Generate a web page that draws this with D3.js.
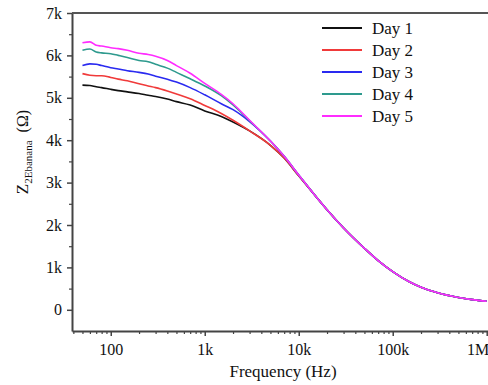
<!DOCTYPE html>
<html lang="en">
<head>
  <meta charset="UTF-8" />
  <title>Z2Ebanana vs frequency</title>
  <script src="https://d3js.org/d3.v7.min.js"></script>
  <style>
    body {
      background-color: white;
      margin: 0;
    }
    svg {
      display: block;
      font-family: "Liberation Serif", "DejaVu Serif", serif;
    }
    .axis path, .axis line {
      stroke: #444;
    }
    .axis text {
      font-family: "Liberation Serif", serif;
      font-size: 16px;
      fill: #111;
    }
  </style>
</head>
<body>
  <svg></svg>

  <script>
    const width = 488;
    const height = 385;

    // frequencies in Hz
    const freq = [50, 60, 70, 80, 100, 120, 150, 200, 250, 300, 400, 500, 700, 1000, 1500, 2000, 3000,
      5000, 7000, 10000, 15000, 20000, 30000, 50000, 70000, 100000, 150000, 200000, 300000, 500000, 700000, 1000000];

    // impedance in ohm, one array per day
    const day1 = [5300, 5290, 5260, 5240, 5200, 5170, 5140, 5100, 5060, 5030, 4970, 4910, 4830, 4690, 4560, 4430, 4220,
      3880, 3580, 3160, 2690, 2360, 1930, 1450, 1160, 900, 660, 530, 400, 290, 240, 200];
    const day2 = [5570, 5530, 5520, 5520, 5480, 5440, 5400, 5330, 5280, 5240, 5160, 5090, 4980, 4820, 4630, 4470, 4220,
      3880, 3580, 3160, 2690, 2360, 1930, 1450, 1160, 900, 660, 530, 400, 290, 240, 200];
    const day3 = [5760, 5800, 5790, 5760, 5710, 5680, 5640, 5600, 5560, 5510, 5440, 5370, 5240, 5070, 4860, 4720, 4440,
      3980, 3620, 3180, 2690, 2360, 1930, 1450, 1160, 900, 660, 530, 400, 290, 240, 200];
    const day4 = [6120, 6150, 6080, 6060, 6040, 6000, 5950, 5880, 5850, 5790, 5700, 5600, 5450, 5280, 5050, 4830, 4460,
      3980, 3620, 3180, 2690, 2360, 1930, 1450, 1160, 900, 660, 530, 400, 290, 240, 200];
    const day5 = [6300, 6320, 6240, 6220, 6180, 6160, 6120, 6050, 6020, 5980, 5880, 5760, 5580, 5340, 5080, 4860, 4470,
      3980, 3620, 3180, 2690, 2360, 1930, 1450, 1160, 900, 660, 530, 400, 290, 240, 200];

    const seriesNames = ["Day 1", "Day 2", "Day 3", "Day 4", "Day 5"];
    const seriesValues = [day1, day2, day3, day4, day5];
    const colors = ["#111111", "#f03a3a", "#2a2af0", "#2e9a8e", "#ff2cff"];

    const xTicks = [100, 1000, 10000, 100000, 1000000];
    const xTickLabels = ["100", "1k", "10k", "100k", "1M"];
    const yTicks = [0, 1000, 2000, 3000, 4000, 5000, 6000, 7000];
    const yTickLabels = ["0", "1k", "2k", "3k", "4k", "5k", "6k", "7k"];

    const margin = {top: 13, right: 0, bottom: 54, left: 72};

    const svg = d3.select("svg")
      .attr("width", width)
      .attr("height", height);

    const x = d3.scaleLog()
      .domain([38.7, 1.032e6])
      .range([margin.left, width - margin.right]);

    const y = d3.scaleLinear()
      .domain([-500, 7000])
      .range([height - margin.bottom, margin.top]);

    // minor ticks
    const xMinor = [];
    for (let e = 1; e <= 6; e++) {
      for (let m = 2; m <= 9; m++) {
        const v = m * Math.pow(10, e);
        if (v > x.domain()[0] && v < x.domain()[1]) xMinor.push(v);
      }
    }
    const yMinor = d3.range(-500, 7000, 1000).filter(v => v > -500);

    svg.append("g")
      .attr("class", "axis")
      .attr("transform", `translate(0,${height - margin.bottom})`)
      .call(d3.axisBottom(x).tickValues(xMinor).tickSize(3).tickFormat(""))
      .call(g => g.select(".domain").remove())
      .selectAll("line").attr("stroke-width", 1.2);

    svg.append("g")
      .attr("class", "axis")
      .attr("transform", `translate(${margin.left},0)`)
      .call(d3.axisLeft(y).tickValues(yMinor).tickSize(3).tickFormat(""))
      .call(g => g.select(".domain").remove())
      .selectAll("line").attr("stroke-width", 1.2);

    const xAxis = svg.append("g")
      .attr("class", "axis")
      .attr("transform", `translate(0,${height - margin.bottom})`)
      .call(d3.axisBottom(x)
        .tickValues(xTicks)
        .tickSize(5)
        .tickSizeOuter(0)
        .tickPadding(8)
        .tickFormat((d, i) => xTickLabels[i]));
    xAxis.select(".domain").attr("stroke-width", 2);
    xAxis.selectAll("line").attr("stroke-width", 1.5);
    // last label sits against the right edge
    xAxis.selectAll(".tick text")
      .filter(d => d === 1000000)
      .attr("text-anchor", "end")
      .attr("x", 2);

    const yAxis = svg.append("g")
      .attr("class", "axis")
      .attr("transform", `translate(${margin.left},0)`)
      .call(d3.axisLeft(y)
        .tickValues(yTicks)
        .tickSize(5)
        .tickSizeOuter(0)
        .tickPadding(5)
        .tickFormat((d, i) => yTickLabels[i]));
    yAxis.select(".domain").attr("stroke-width", 2);
    yAxis.selectAll("line").attr("stroke-width", 1.5);

    // top frame line
    svg.append("line")
      .attr("x1", margin.left)
      .attr("x2", width)
      .attr("y1", y(7000))
      .attr("y2", y(7000))
      .attr("stroke", "#555")
      .attr("stroke-width", 2);

    const line = d3.line()
      .x((d, i) => x(freq[i]))
      .y(d => y(d))
      .curve(d3.curveMonotoneX);

    svg.append("g")
      .selectAll("path")
      .data(seriesValues)
      .enter().append("path")
      .attr("fill", "none")
      .attr("stroke", (d, i) => colors[i])
      .attr("stroke-width", 1.6)
      .attr("d", line);

    // legend
    const legend = svg.append("g")
      .selectAll("g")
      .data(seriesNames)
      .enter().append("g")
      .attr("transform", (d, i) => `translate(322,${28 + i * 22})`);

    legend.append("line")
      .attr("x1", 0)
      .attr("x2", 40)
      .attr("stroke", (d, i) => colors[i])
      .attr("stroke-width", 2);

    legend.append("text")
      .attr("x", 50)
      .attr("dy", "0.35em")
      .attr("font-size", 17)
      .attr("fill", "#111")
      .text(d => d);

    // axis titles
    svg.append("text")
      .attr("x", 283)
      .attr("y", 377)
      .attr("text-anchor", "middle")
      .attr("font-size", 17)
      .attr("fill", "#111")
      .text("Frequency (Hz)");

    const yTitle = svg.append("text")
      .attr("transform", "translate(28,152) rotate(-90)")
      .attr("text-anchor", "middle")
      .attr("fill", "#111");
    yTitle.append("tspan").attr("font-size", 17).text("Z");
    yTitle.append("tspan").attr("font-size", 11).attr("dy", 4).text("2Ebanana");
    yTitle.append("tspan").attr("font-size", 16).attr("dy", -4).attr("dx", 8).text("(Ω)");
  </script>
</body>
</html>
